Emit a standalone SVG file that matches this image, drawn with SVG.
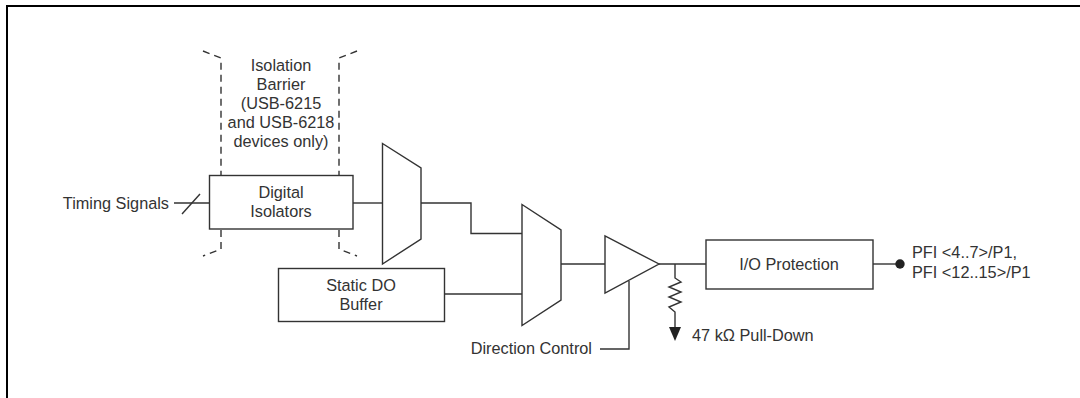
<svg xmlns="http://www.w3.org/2000/svg" width="1080" height="398" viewBox="0 0 1080 398">
<style>
text{font-family:"Liberation Sans",Arial,sans-serif;font-size:16.300px;fill:#333;text-anchor:middle}
.s{fill:#fff;stroke:#333;stroke-width:1.4}
.w{fill:none;stroke:#333;stroke-width:1.4}
.d{fill:none;stroke:#333;stroke-width:1.4;stroke-dasharray:7 5}
.l{text-anchor:start}
.e{text-anchor:end}
</style>
<rect width="1080" height="398" fill="#fff"/>
<path id="frame" d="M7 398V6H1080" fill="none" stroke="#000" stroke-width="2"/>
<g id="connectors">
<path class="w" d="M174 203H209"/>
<path class="w" d="M182 214L200 194"/>
<path class="w" d="M353 203H382"/>
<path class="w" d="M421 203H471V233.500H522"/>
<path class="w" d="M445 294H522"/>
<path class="w" d="M561 264H605"/>
<path class="w" d="M659 264H706"/>
<path class="w" d="M675 264V278L681 282L669 287L681 292L669 297L681 302L669 307L675 312V328"/>
<path class="w" d="M600 349H629V281"/>
<path class="w" d="M873 264H900"/>
<path d="M669 327H681L675 341Z" fill="#222"/>
<circle cx="900" cy="264" r="4.700" fill="#222"/>
<path class="d" d="M203 51L221 58V175"/>
<path class="d" d="M221 230V249L203 256"/>
<path class="d" d="M357 51L339 58V175"/>
<path class="d" d="M339 230V249L357 256"/>
</g>
<g id="isolation-barrier">
<text x="281" y="70.500">Isolation</text>
<text x="281" y="89.500">Barrier</text>
<text x="281" y="108.500">(USB-6215</text>
<text x="281" y="128">and USB-6218</text>
<text x="281" y="147">devices only)</text>
</g>
<g id="timing"><text class="e" x="169" y="208.500">Timing Signals</text></g>
<g id="digital-isolators">
<rect class="s" x="209.500" y="175.500" width="143.500" height="53.500"/>
<text x="281" y="197.500">Digital</text>
<text x="281" y="216.500">Isolators</text>
</g>
<g id="mux1"><path class="s" d="M382.500 143.500L421 168V239L382.500 264Z"/></g>
<g id="static-do-buffer">
<rect class="s" x="278.500" y="268.500" width="166" height="53"/>
<text x="361" y="291">Static DO</text>
<text x="361" y="310">Buffer</text>
</g>
<g id="mux2"><path class="s" d="M522 204.500L561 230V300L522 325.500Z"/></g>
<g id="buffer"><path class="s" d="M605 236V293L659 264Z"/></g>
<g id="direction"><text class="e" x="592" y="354">Direction Control</text></g>
<g id="pull-down"><text class="l" x="692" y="341">47 kΩ Pull-Down</text></g>
<g id="io-protection">
<rect class="s" x="706" y="240" width="167" height="49"/>
<text x="789" y="270">I/O Protection</text>
</g>
<g id="pfi">
<text class="l" x="912" y="258">PFI &lt;4..7&gt;/P1,</text>
<text class="l" x="912" y="278">PFI &lt;12..15&gt;/P1</text>
</g>
</svg>
